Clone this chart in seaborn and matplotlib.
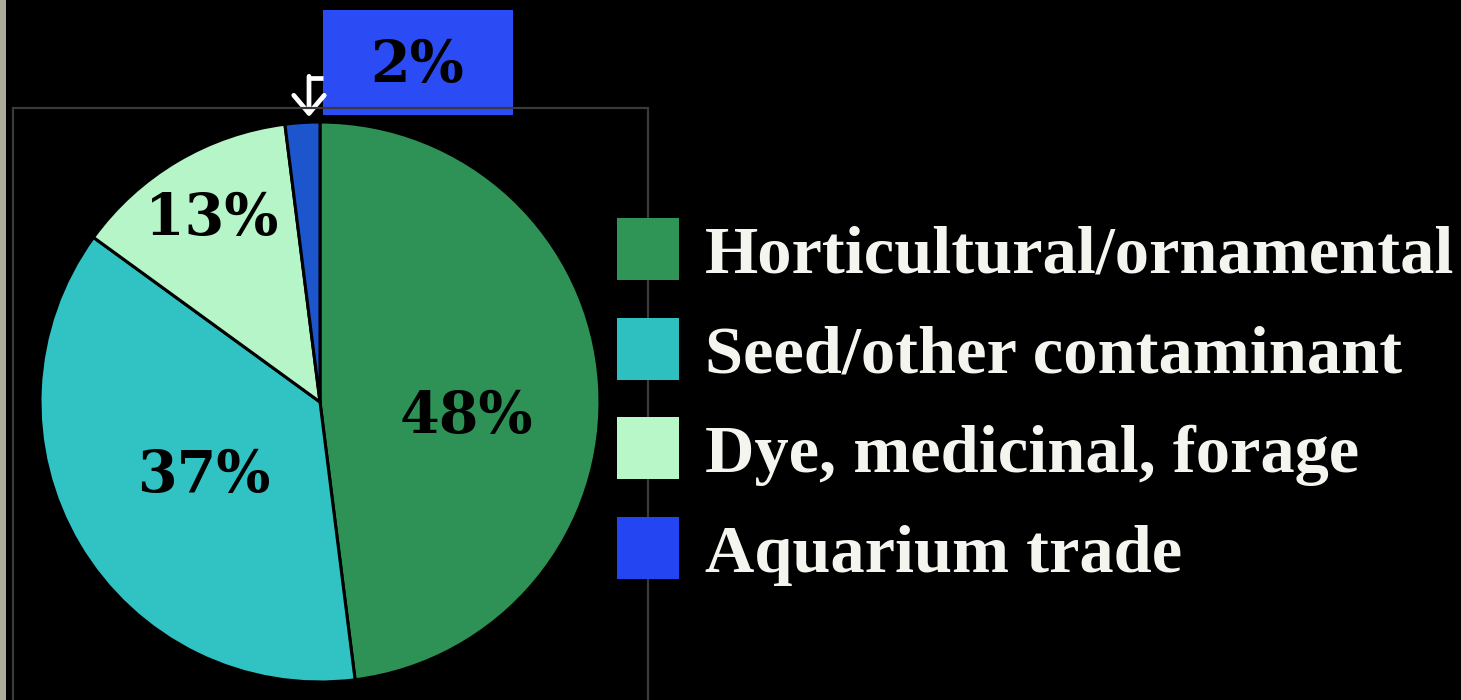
import matplotlib
matplotlib.use("Agg")
import matplotlib.pyplot as plt
from matplotlib.patches import Rectangle
import seaborn as sns

# ---- data ----
categories = ["Horticultural/ornamental", "Seed/other contaminant",
              "Dye, medicinal, forage", "Aquarium trade"]
shares = [48, 37, 13, 2]
pct_labels = ["48%", "37%", "13%", "2%"]

sns.set_style("dark")
plt.rcParams["font.family"] = ["DejaVu Serif", "DejaVu Sans"]

slice_colors = sns.color_palette(["#2E9156", "#31C3C3", "#B6F5C7", "#1D56CC"])
legend_colors = sns.color_palette(["#2E9556", "#2EC0C0", "#B8F7C8", "#2446F2"])

W, H = 1461, 700
fig = plt.figure(figsize=(W / 100, H / 100), dpi=100, facecolor="black")

# left strip and frame
fig.patches.append(Rectangle((0, 0), 6 / W, 1, transform=fig.transFigure,
                             facecolor="#ADAA97", edgecolor="none"))
fig.patches.append(Rectangle((13 / W, -0.05), (648 - 13) / W, (700 - 108) / H + 0.05,
                             transform=fig.transFigure, facecolor="none",
                             edgecolor="#3a3a3a", linewidth=1.6))

cx, cy, r = 320, 402, 280
ax = fig.add_axes([(cx - r) / W, (H - cy - r) / H, 2 * r / W, 2 * r / H])
ax.set_facecolor("none")
wedges, _ = ax.pie(shares, colors=slice_colors, startangle=90, counterclock=False,
                   radius=1, wedgeprops=dict(edgecolor="black", linewidth=2.2))
ax.set_xlim(-1, 1)
ax.set_ylim(-1, 1)
ax.set_aspect("auto")
ax.axis("off")

def px(x, y):
    return ((x - cx) / r, -(y - cy) / r)

label_px = [(466, 417), (204, 476), (212, 219)]
for lab, (lx, ly) in zip(pct_labels[:3], label_px):
    ax.text(*px(lx, ly), lab, ha="center", va="center", fontsize=41,
            fontweight="bold", color="black", family="DejaVu Serif")

# 2% callout box
bx0, by0 = px(323, 115)
bx1, by1 = px(513, 10)
ax.add_patch(Rectangle((bx0, by0), bx1 - bx0, by1 - by0, facecolor="#2B4CF5",
                       edgecolor="none", clip_on=False))
ax.text(*px(417, 66), pct_labels[3], ha="center", va="center", fontsize=41,
        fontweight="bold", color="black", family="DejaVu Serif", clip_on=False)
# elbow arrow
hx0, hy = px(323, 78)
hx1, _ = px(309, 78)
_, ty = px(309, 117)
ax.plot([hx0, hx1 - 0.006], [hy, hy], color="white", lw=3.4, clip_on=False,
        solid_capstyle="butt")
ax.annotate("", xy=(hx1, ty), xytext=(hx1, hy + 0.006),
            arrowprops=dict(arrowstyle="->,head_length=1.3,head_width=1.1",
                            color="white", lw=3.4, shrinkA=0, shrinkB=0,
                            mutation_scale=10),
            annotation_clip=False)

# legend
row_y = [249, 349, 448, 548]
for lab, col, yy in zip(categories, legend_colors, row_y):
    fig.patches.append(Rectangle((617 / W, (H - yy - 31) / H), 62 / W, 62 / H,
                                 transform=fig.transFigure, facecolor=col,
                                 edgecolor="none"))
    fig.text(705 / W, (H - yy) / H, lab, ha="left", va="center_baseline",
             fontsize=49.3, fontweight="bold", color="#F5F5F0",
             family="Liberation Serif")

fig.savefig("out.png", dpi=100, facecolor="black")
